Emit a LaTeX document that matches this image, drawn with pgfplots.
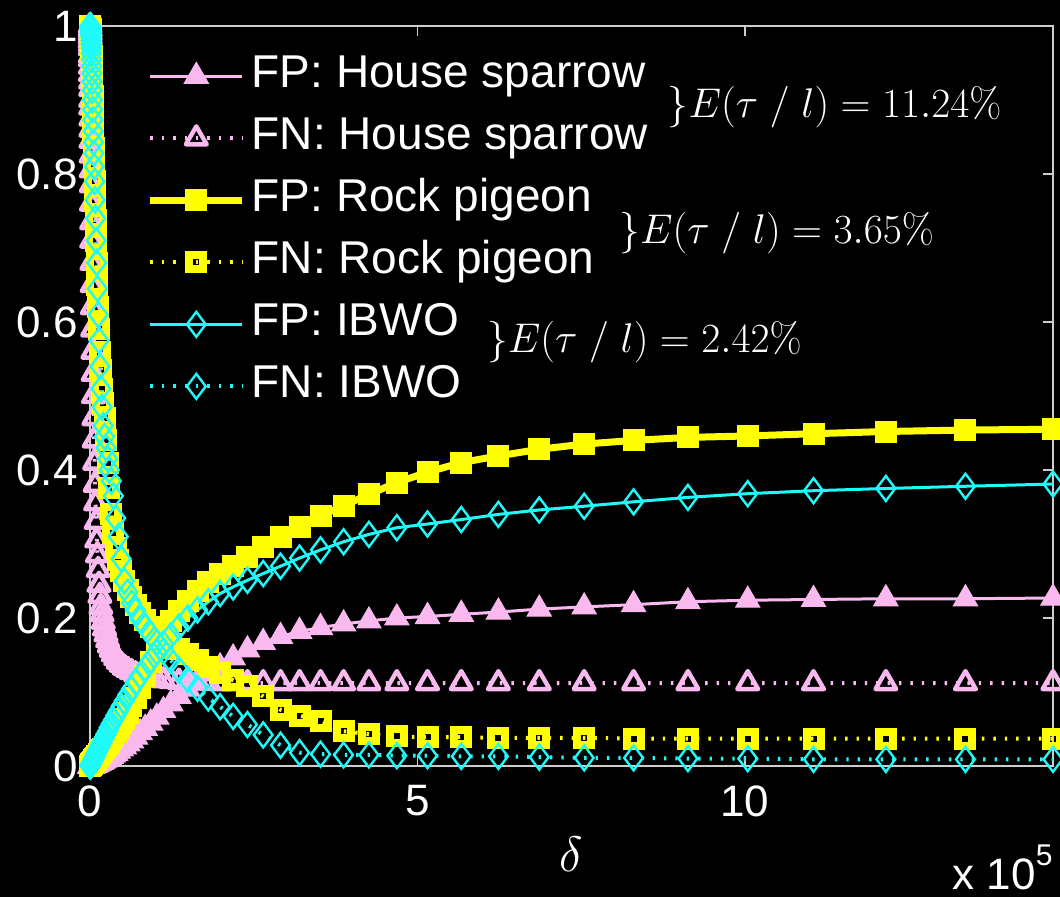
\documentclass[border=0pt]{standalone}
\usepackage[no-math]{fontspec}
\setmainfont{Liberation Sans}
\usepackage{pgfplots}
\usepackage{pgfplotstable}
\pgfplotsset{compat=1.18}
\definecolor{pinkc}{RGB}{250,185,238}
\definecolor{yelc}{RGB}{255,255,0}
\definecolor{cyac}{RGB}{30,250,250}
\definecolor{axc}{RGB}{205,205,205}

\pgfplotstableread{
x fphs fnhs fprp fnrp fpib fnib
0.00304 0 1.000 0 1.000 0.000 1.000
0.00335 0 0.995 0 1.000 0.000 1.000
0.00368 0 0.990 0 1.000 0.000 1.000
0.00405 0 0.985 0 1.000 0.001 0.999
0.00446 0 0.980 0 0.999 0.001 0.999
0.00490 0 0.975 0 0.999 0.001 0.998
0.00539 0 0.970 0 0.998 0.001 0.998
0.00593 0 0.960 0 0.998 0.001 0.997
0.00653 0 0.955 0 0.997 0.001 0.996
0.00718 0 0.945 0 0.997 0.001 0.995
0.00790 0 0.935 0.001 0.996 0.001 0.994
0.00869 0 0.925 0.001 0.995 0.001 0.993
0.00955 0 0.915 0.001 0.994 0.002 0.992
0.01051 0 0.900 0.001 0.993 0.002 0.991
0.01156 0 0.890 0.001 0.992 0.002 0.990
0.01272 0 0.875 0.001 0.990 0.002 0.988
0.01399 0 0.860 0.001 0.988 0.002 0.985
0.01539 0 0.845 0.002 0.985 0.003 0.980
0.01693 0 0.825 0.002 0.982 0.003 0.975
0.01862 0 0.805 0.002 0.978 0.003 0.970
0.02048 0 0.785 0.002 0.973 0.004 0.963
0.02253 0 0.760 0.003 0.967 0.004 0.955
0.02478 0 0.735 0.003 0.960 0.004 0.946
0.02726 0 0.710 0.003 0.952 0.005 0.936
0.02999 0 0.680 0.004 0.943 0.005 0.925
0.03299 0 0.650 0.004 0.932 0.006 0.913
0.03629 0 0.620 0.004 0.920 0.006 0.900
0.03992 0 0.590 0.005 0.906 0.007 0.887
0.04391 0 0.560 0.005 0.890 0.008 0.873
0.04830 0 0.530 0.006 0.873 0.008 0.858
0.05313 0.001 0.500 0.006 0.855 0.009 0.843
0.05844 0.001 0.470 0.007 0.835 0.010 0.828
0.06429 0.001 0.440 0.008 0.813 0.011 0.810
0.07072 0.001 0.410 0.008 0.790 0.012 0.790
0.07779 0.002 0.380 0.009 0.765 0.014 0.765
0.08557 0.002 0.355 0.010 0.738 0.015 0.740
0.09412 0.002 0.330 0.011 0.710 0.017 0.710
0.10354 0.003 0.305 0.012 0.680 0.018 0.680
0.11389 0.003 0.285 0.013 0.650 0.020 0.645
0.12528 0.004 0.265 0.014 0.620 0.022 0.610
0.13781 0.004 0.245 0.016 0.590 0.024 0.575
0.15159 0.005 0.230 0.017 0.560 0.027 0.540
0.16675 0.005 0.215 0.019 0.535 0.030 0.510
0.18342 0.006 0.205 0.021 0.510 0.032 0.485
0.20176 0.007 0.195 0.023 0.490 0.036 0.460
0.22194 0.008 0.186 0.025 0.470 0.039 0.445
0.24413 0.009 0.178 0.028 0.440 0.043 0.430
0.26855 0.010 0.170 0.031 0.410 0.047 0.415
0.29540 0.011 0.163 0.034 0.375 0.052 0.400
0.32494 0.013 0.157 0.037 0.340 0.057 0.385
0.35744 0.015 0.151 0.041 0.315 0.062 0.365
0.39318 0.017 0.146 0.046 0.295 0.068 0.335
0.43250 0.020 0.141 0.051 0.278 0.074 0.310
0.47575 0.023 0.137 0.057 0.263 0.081 0.280
0.52332 0.026 0.133 0.064 0.250 0.088 0.250
0.57566 0.030 0.130 0.072 0.238 0.096 0.235
0.63322 0.034 0.127 0.081 0.228 0.104 0.220
0.69654 0.039 0.124 0.092 0.218 0.113 0.210
0.76620 0.045 0.122 0.105 0.207 0.122 0.198
0.84282 0.051 0.120 0.121 0.197 0.132 0.188
0.92710 0.058 0.118 0.140 0.188 0.143 0.178
1.01981 0.066 0.117 0.160 0.180 0.154 0.167
1.12179 0.075 0.116 0.180 0.172 0.165 0.155
1.23397 0.084 0.115 0.196 0.165 0.176 0.143
1.35737 0.094 0.114 0.210 0.158 0.188 0.130
1.49310 0.104 0.114 0.223 0.151 0.200 0.117
1.64241 0.114 0.113 0.236 0.143 0.211 0.105
1.80666 0.124 0.113 0.248 0.134 0.222 0.092
1.98732 0.134 0.112 0.259 0.125 0.233 0.080
2.18605 0.146 0.112 0.270 0.116 0.242 0.067
2.40466 0.157 0.112 0.283 0.108 0.251 0.056
2.64512 0.167 0.112 0.296 0.094 0.260 0.042
2.90964 0.175 0.112 0.310 0.076 0.270 0.028
3.20060 0.182 0.112 0.323 0.068 0.281 0.018
3.52066 0.187 0.112 0.338 0.061 0.292 0.016
3.87273 0.192 0.112 0.352 0.047 0.303 0.015
4.26000 0.196 0.112 0.367 0.043 0.313 0.015
4.68600 0.200 0.112 0.383 0.040 0.322 0.014
5.15460 0.202 0.112 0.397 0.039 0.327 0.014
5.67006 0.205 0.112 0.410 0.039 0.333 0.013
6.23707 0.208 0.112 0.419 0.038 0.340 0.013
6.86077 0.212 0.112 0.428 0.038 0.346 0.012
7.54685 0.215 0.112 0.435 0.038 0.351 0.011
8.30154 0.218 0.112 0.440 0.037 0.357 0.011
9.13169 0.222 0.112 0.444 0.037 0.363 0.010
10.04486 0.224 0.112 0.446 0.037 0.368 0.010
11.04935 0.225 0.112 0.449 0.037 0.372 0.009
12.15428 0.226 0.112 0.452 0.037 0.375 0.009
13.36971 0.226 0.112 0.454 0.037 0.378 0.009
14.70668 0.227 0.112 0.455 0.037 0.381 0.009
}\datatab

\begin{document}
\begin{tikzpicture}
\fill[black] (-45pt,-65.5pt) rectangle (485pt,383pt);
\begin{axis}[
  at={(0pt,0pt)}, anchor=south west,
  scale only axis, width=481.5pt, height=370pt,
  xmin=0, xmax=14.70668, ymin=0, ymax=1,
  xtick={0,5,10}, ytick={0,0.2,0.4,0.6,0.8,1},
  axis line style={axc, line width=0.7pt},
  tick style={axc, line width=0.7pt},
  major tick length=5pt,
  tick align=inside,
  /pgf/number format/assume math mode=true,
  ticklabel style={text=white, font=\fontsize{22}{22}\selectfont, inner sep=0pt},
  yticklabel style={xshift=-6pt},
  xticklabel style={yshift=-9.6pt},
  xlabel={$\delta$},
  xlabel style={text=white, font=\fontsize{31}{31}\selectfont, at={(rel axis cs:0.5,0)}, anchor=base, yshift=-53pt, inner sep=0pt},
  legend cell align=left,
  legend image code/.code={\draw[mark repeat=2,mark phase=2,#1] plot coordinates {(0pt,0pt) (23pt,0pt) (46pt,0pt)};},
  legend style={
    at={(rel axis cs:0.059,0.961)}, anchor=north west,
    draw=none, fill=none, text=white,
    font=\fontsize{23}{23}\selectfont,
    inner sep=0pt, outer sep=0pt,
    row sep=9.5pt,
    nodes={inner sep=0pt, text height=16.5pt, text depth=5pt},
    /tikz/every odd column/.append style={column sep=3pt},
  },
]
\addplot[pinkc, line width=1.5pt, mark=triangle*, mark size=7pt, mark options={fill=pinkc, draw=pinkc, line width=0.5pt, solid}]
  table[x=x, y=fphs] {\datatab};
\addlegendentry{FP: House sparrow}
\addplot[pinkc, line width=2pt, dash pattern=on 1.2pt off 4.5pt, mark=triangle, mark size=6pt, mark options={solid, line width=2.2pt, line join=round}]
  table[x=x, y=fnhs] {\datatab};
\addlegendentry{FN: House sparrow}
\addplot[yelc, line width=3.5pt, mark=square*, mark size=5pt, mark options={solid, fill=yelc, line width=1pt}]
  table[x=x, y=fprp] {\datatab};
\addlegendentry{FP: Rock pigeon}
\addplot[yelc, line width=2pt, dash pattern=on 1.2pt off 4.5pt, mark=square, mark size=3.5pt, mark options={solid, line width=4pt}]
  table[x=x, y=fnrp] {\datatab};
\addlegendentry{FN: Rock pigeon}
\addplot[cyac, line width=1.5pt, mark=diamond, mark size=6.25pt, mark options={solid, line width=1.2pt}]
  table[x=x, y=fpib] {\datatab};
\addlegendentry{FP: IBWO}
\addplot[cyac, line width=2pt, dash pattern=on 1.2pt off 4.5pt, mark=diamond, mark size=6.25pt, mark options={solid, line width=1.2pt}]
  table[x=x, y=fnib] {\datatab};
\addlegendentry{FN: IBWO}

\node[text=white, anchor=west, inner sep=0pt, font=\fontsize{22}{22}\selectfont] at (axis cs:8.82,0.8905) {$\}E(\tau\;/\;l) = 11.24\mathchar"025$};
\node[text=white, anchor=west, inner sep=0pt, font=\fontsize{22}{22}\selectfont] at (axis cs:8.08,0.7203) {$\}E(\tau\;/\;l) = 3.65\mathchar"025$};
\node[text=white, anchor=west, inner sep=0pt, font=\fontsize{22}{22}\selectfont] at (axis cs:6.06,0.573) {$\}E(\tau\;/\;l) = 2.42\mathchar"025$};
\end{axis}
\node[text=white, anchor=base east, inner sep=0pt, font=\fontsize{22}{22}\selectfont] at (481.5pt,-62pt) {x 10\raisebox{0.55em}{\fontsize{15}{15}\selectfont 5}};
\pgfresetboundingbox
\path[use as bounding box] (-45pt,-65.5pt) rectangle (485pt,383pt);
\end{tikzpicture}
\end{document}
